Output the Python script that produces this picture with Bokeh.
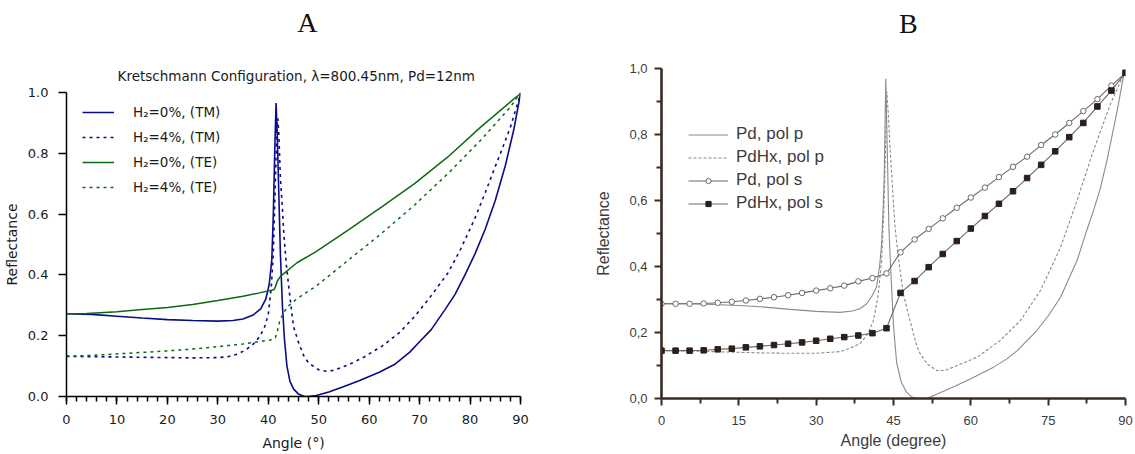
from bokeh.plotting import figure
from bokeh.models import Range1d, Label, Legend, LegendItem, SingleIntervalTicker, FixedTicker
from bokeh.layouts import row, column
from bokeh.embed import file_html
from bokeh.resources import INLINE

# ---------------- Panel A data (Kretschmann, lambda=800.45nm) ----------------
A_TM0_ANGLE = [0, 5, 10, 15, 20, 25, 30, 33, 35, 37, 38.5, 39.5, 40.2, 40.7, 41.0, 41.3, 41.55,
               41.8, 42.1, 42.4, 42.8, 43.2, 43.7, 44.3, 45, 46, 47, 48, 49.5, 52, 55, 58, 62,
               65, 68, 70, 72.3, 75, 77, 79, 81, 83, 85, 87, 88.7, 90]
A_TM0_R = [0.272, 0.270, 0.264, 0.258, 0.253, 0.250, 0.248, 0.250, 0.255, 0.268, 0.288, 0.32, 0.37,
           0.45, 0.60, 0.82, 0.965, 0.85, 0.66, 0.47, 0.30, 0.19, 0.10, 0.05, 0.025, 0.008, 0.001,
           0.0, 0.003, 0.015, 0.033, 0.052, 0.08, 0.105, 0.145, 0.18, 0.22, 0.285, 0.335, 0.40,
           0.47, 0.55, 0.645, 0.76, 0.88, 0.996]

A_TM4_ANGLE = [0, 5, 10, 15, 20, 25, 30, 32, 34, 35.5, 37, 38.2, 39.2, 40, 40.6, 41.0, 41.4, 41.7,
               41.9, 42.1, 42.4, 42.8, 43.1, 43.6, 44.2, 45, 46, 47, 48, 50, 51.5, 53, 56, 59,
               62.5, 66, 69, 72, 75.6, 78, 80.8, 83, 84.7, 86.5, 88, 90]
A_TM4_R = [0.132, 0.131, 0.130, 0.129, 0.128, 0.127, 0.128, 0.131, 0.140, 0.153, 0.172, 0.195,
           0.225, 0.27, 0.36, 0.47, 0.70, 0.88, 0.915, 0.86, 0.72, 0.62, 0.53, 0.43, 0.34, 0.23,
           0.178, 0.135, 0.11, 0.088, 0.083, 0.086, 0.105, 0.13, 0.165, 0.21, 0.263, 0.325,
           0.406, 0.48, 0.58, 0.67, 0.744, 0.82, 0.886, 0.996]

A_TE0_ANGLE = [0, 4, 10, 15, 20, 25, 30, 35, 38, 41.1, 41.4, 41.8, 42.4, 43.5, 45.7, 49.4, 55.9,
               62.5, 69, 75.6, 82.1, 88.7, 90]
A_TE0_R = [0.272, 0.273, 0.279, 0.286, 0.293, 0.303, 0.316, 0.330, 0.340, 0.351, 0.36, 0.38,
           0.395, 0.41, 0.44, 0.476, 0.548, 0.624, 0.70, 0.788, 0.886, 0.979, 0.996]

A_TE4_ANGLE = [0, 5, 10, 15, 20, 25, 30, 35, 38, 40.4, 41.4, 41.8, 42.3, 43, 44, 45.6, 47.5, 49.4,
               55.9, 62.5, 69, 75.6, 82.1, 88, 90]
A_TE4_R = [0.132, 0.135, 0.140, 0.145, 0.150, 0.156, 0.164, 0.173, 0.180, 0.186, 0.193, 0.215,
           0.25, 0.275, 0.298, 0.32, 0.342, 0.362, 0.449, 0.537, 0.63, 0.733, 0.843, 0.952, 1.0]

A_LABELS = ["H\u2082=0%, (TM)", "H\u2082=4%, (TM)", "H\u2082=0%, (TE)", "H\u2082=4%, (TE)"]
A_YTICKS = [0.0, 0.2, 0.4, 0.6, 0.8, 1.0]
A_YTICK_LABELS = ["0.0", "0.2", "0.4", "0.6", "0.8", "1.0"]
A_TITLE = "Kretschmann Configuration, \u03bb=800.45nm, Pd=12nm"

# ---------------- Panel B data ----------------
B_PDP_ANGLE = [0, 5, 10, 15, 20, 25, 30, 34.6, 37, 38.5, 39.8, 40.8, 41.7, 42.3, 42.7, 43.0, 43.2,
               43.5, 43.8, 44.1, 44.4, 45, 45.6, 46.5, 47.5, 48.5, 49.5, 51.5, 54.7, 57, 60, 64.4,
               67, 69, 72.8, 75, 77.4, 80.6, 82.5, 83.8, 85, 86.4, 88.4, 89.7]
B_PDP_R = [0.287, 0.287, 0.285, 0.282, 0.277, 0.270, 0.264, 0.261, 0.265, 0.272, 0.287, 0.31,
           0.337, 0.40, 0.469, 0.58, 0.67, 0.969, 0.75, 0.52, 0.41, 0.22, 0.11, 0.05, 0.02,
           0.005, 0.0, 0.0, 0.022, 0.038, 0.06, 0.095, 0.12, 0.145, 0.206, 0.25, 0.307, 0.418,
           0.51, 0.57, 0.63, 0.721, 0.873, 0.984]

B_PDHXP_ANGLE = [0, 5, 10, 15, 20, 25, 30, 34.6, 36.5, 38.5, 40, 41.1, 42, 42.7, 43.1, 43.4, 43.7,
                 44.0, 44.3, 44.8, 45.3, 46, 46.9, 48.2, 49.5, 50.2, 51.5, 53.4, 55, 56.6, 61.2,
                 65.7, 69.6, 73.5, 77.4, 80.6, 83.8, 87.1, 89.7]
B_PDHXP_R = [0.145, 0.144, 0.142, 0.140, 0.138, 0.137, 0.137, 0.142, 0.152, 0.166, 0.195, 0.236,
             0.31, 0.418, 0.56, 0.72, 0.93, 0.86, 0.77, 0.64, 0.519, 0.42, 0.317, 0.236, 0.16,
             0.135, 0.105, 0.085, 0.085, 0.095, 0.125, 0.176, 0.236, 0.327, 0.458, 0.6, 0.752,
             0.893, 0.984]

B_S_ANGLE = [0, 2.73, 5.45, 8.18, 10.91, 13.64, 16.36, 19.09, 21.82, 24.55, 27.27, 30.0, 32.73,
             35.45, 38.18, 40.91, 43.64, 46.36, 49.09, 51.82, 54.55, 57.27, 60.0, 62.73, 65.45,
             68.18, 70.91, 73.64, 76.36, 79.09, 81.82, 84.55, 87.27, 90.0]
B_PDS_R = [0.287, 0.287, 0.287, 0.288, 0.290, 0.293, 0.297, 0.302, 0.307, 0.313, 0.320, 0.327,
           0.334, 0.342, 0.355, 0.365, 0.379, 0.443, 0.482, 0.514, 0.546, 0.578, 0.609, 0.639,
           0.671, 0.702, 0.733, 0.768, 0.800, 0.835, 0.871, 0.907, 0.948, 0.987]
B_PDHXS_R = [0.145, 0.145, 0.145, 0.146, 0.149, 0.151, 0.155, 0.158, 0.162, 0.166, 0.170, 0.175,
             0.181, 0.186, 0.191, 0.198, 0.213, 0.32, 0.356, 0.398, 0.438, 0.477, 0.515, 0.553,
             0.590, 0.628, 0.668, 0.708, 0.749, 0.792, 0.835, 0.885, 0.933, 0.987]

B_LABELS = ["Pd, pol p", "PdHx, pol p", "Pd, pol s", "PdHx, pol s"]
B_XTICKS = [0, 15, 30, 45, 60, 75, 90]
B_XMINOR = [7.5, 22.5, 37.5, 52.5, 67.5, 82.5]
B_YTICKS = [0.0, 0.2, 0.4, 0.6, 0.8, 1.0]
B_YMINOR = [0.1, 0.3, 0.5, 0.7, 0.9]
B_YTICK_LABELS = ["0,0", "0,2", "0,4", "0,6", "0,8", "1,0"]


def blank_header(width, height):
    f = figure(width=width, height=height, x_range=Range1d(0, width), y_range=Range1d(0, height),
               output_backend="svg", toolbar_location=None, min_border=0,
               min_border_left=0, min_border_right=0, min_border_top=0, min_border_bottom=0)
    f.outline_line_color = None
    f.grid.grid_line_color = None
    f.axis.visible = False
    return f


# ---------------- Panel A ----------------
FA = "DejaVu Sans"
NAVY = "#0b0b86"
GREEN = "#0a6a12"
TXT_A = "#1a1a1a"

pAt = blank_header(575, 84)
pAt.add_layout(Label(x=305, y=84 - 22, text="A", text_align="center", text_baseline="middle",
                     text_font="Liberation Serif", text_font_size="28px", text_color="#111111"))
pAt.add_layout(Label(x=291, y=84 - 75, text=A_TITLE, text_align="center", text_baseline="middle",
                     text_font=FA, text_font_size="13.5px", text_color=TXT_A))

pA = figure(width=575, height=370, x_range=Range1d(0, 90), y_range=Range1d(0, 1.0),
            output_backend="svg", toolbar_location=None,
            min_border_left=63, min_border_right=55, min_border_top=8, min_border_bottom=58)
pA.outline_line_color = None
pA.grid.grid_line_color = None

r1 = pA.line(A_TM0_ANGLE, A_TM0_R, line_color=NAVY, line_width=1.6)
r2 = pA.line(A_TM4_ANGLE, A_TM4_R, line_color=NAVY, line_width=1.6, line_dash="3 4")
r3 = pA.line(A_TE0_ANGLE, A_TE0_R, line_color=GREEN, line_width=1.5)
r4 = pA.line(A_TE4_ANGLE, A_TE4_R, line_color=GREEN, line_width=1.5, line_dash="3 4")

pA.xaxis.ticker = SingleIntervalTicker(interval=10, num_minor_ticks=5)
pA.yaxis.ticker = FixedTicker(ticks=A_YTICKS, minor_ticks=[])
pA.yaxis.major_label_overrides = dict(zip(A_YTICKS, A_YTICK_LABELS))
for ax in (pA.xaxis[0], pA.yaxis[0]):
    ax.axis_line_color = "black"
    ax.axis_line_width = 1.5
    ax.major_tick_line_color = "black"
    ax.major_tick_line_width = 1.5
    ax.minor_tick_line_color = "black"
    ax.minor_tick_line_width = 1.5
    ax.major_tick_in = 0
    ax.major_tick_out = 8
    ax.minor_tick_in = 0
    ax.minor_tick_out = 5
    ax.major_label_text_font = FA
    ax.major_label_text_font_size = "13px"
    ax.major_label_text_color = TXT_A
    ax.axis_label_text_font = FA
    ax.axis_label_text_font_size = "14px"
    ax.axis_label_text_font_style = "normal"
    ax.axis_label_text_color = TXT_A
pA.xaxis.axis_label = "Angle (\u00b0)"
pA.yaxis.axis_label = "Reflectance"
pA.xaxis.major_label_standoff = 10
pA.xaxis.axis_label_standoff = 8
pA.yaxis.major_label_standoff = 10
pA.yaxis.axis_label_standoff = 5

legA = Legend(items=[LegendItem(label=A_LABELS[0], renderers=[r1]),
                     LegendItem(label=A_LABELS[1], renderers=[r2]),
                     LegendItem(label=A_LABELS[2], renderers=[r3]),
                     LegendItem(label=A_LABELS[3], renderers=[r4])],
              location=(16, 199), padding=0, margin=0, spacing=5,
              glyph_width=32, glyph_height=20, label_height=20, label_standoff=19,
              label_text_font=FA, label_text_font_size="13.5px", label_text_color=TXT_A,
              border_line_color=None, background_fill_alpha=0)
pA.add_layout(legA)

# ---------------- Panel B ----------------
FB = "Liberation Sans"
AXB = "#3a2a20"
TXT_B = "#3c3c3c"
GRAY = "#8a8a8a"
DGRAY = "#6a6a6a"

pBt = blank_header(560, 60)
pBt.add_layout(Label(x=298, y=60 - 23, text="B", text_align="center", text_baseline="middle",
                     text_font="Liberation Serif", text_font_size="28px", text_color="#111111"))

pB = figure(width=560, height=394, x_range=Range1d(0, 90), y_range=Range1d(0, 1.0),
            output_backend="svg", toolbar_location=None,
            min_border_left=86, min_border_right=10, min_border_top=8, min_border_bottom=56)
pB.outline_line_color = None
pB.grid.grid_line_color = None

b1 = pB.line(B_PDP_ANGLE, B_PDP_R, line_color=GRAY, line_width=1.1)
b2 = pB.line(B_PDHXP_ANGLE, B_PDHXP_R, line_color=GRAY, line_width=1.1, line_dash="3 2")
b3l = pB.line(B_S_ANGLE, B_PDS_R, line_color=DGRAY, line_width=1.1)
b3m = pB.scatter(B_S_ANGLE, B_PDS_R, marker="circle", size=5.5, fill_color="white",
                 line_color=DGRAY, line_width=1)
b4l = pB.line(B_S_ANGLE, B_PDHXS_R, line_color=DGRAY, line_width=1.1)
b4m = pB.scatter(B_S_ANGLE, B_PDHXS_R, marker="square", size=5.5, fill_color="#2b1f18",
                 line_color="#2b1f18", line_width=1)

pB.xaxis.ticker = FixedTicker(ticks=B_XTICKS, minor_ticks=B_XMINOR)
pB.yaxis.ticker = FixedTicker(ticks=B_YTICKS, minor_ticks=B_YMINOR)
pB.yaxis.major_label_overrides = dict(zip(B_YTICKS, B_YTICK_LABELS))
for ax in (pB.xaxis[0], pB.yaxis[0]):
    ax.axis_line_color = AXB
    ax.axis_line_width = 2.6
    ax.major_tick_line_color = AXB
    ax.major_tick_line_width = 2
    ax.minor_tick_line_color = AXB
    ax.minor_tick_line_width = 2
    ax.major_tick_in = 0
    ax.major_tick_out = 7
    ax.minor_tick_in = 0
    ax.minor_tick_out = 5
    ax.major_label_text_font = FB
    ax.major_label_text_font_size = "13px"
    ax.major_label_text_color = TXT_B
    ax.axis_label_text_font = FB
    ax.axis_label_text_font_size = "16px"
    ax.axis_label_text_font_style = "normal"
    ax.axis_label_text_color = TXT_B
pB.xaxis.axis_label = "Angle (degree)"
pB.yaxis.axis_label = "Reflectance"
pB.xaxis.major_label_standoff = 10
pB.xaxis.axis_label_standoff = 4
pB.yaxis.major_label_standoff = 7
pB.yaxis.axis_label_standoff = 14

legB = Legend(items=[LegendItem(label=B_LABELS[0], renderers=[b1]),
                     LegendItem(label=B_LABELS[1], renderers=[b2]),
                     LegendItem(label=B_LABELS[2], renderers=[b3l, b3m]),
                     LegendItem(label=B_LABELS[3], renderers=[b4l, b4m])],
              location=(27, 184), padding=0, margin=0, spacing=1,
              glyph_width=40, glyph_height=13, label_height=22, label_standoff=8,
              label_text_font=FB, label_text_font_size="17px", label_text_color=TXT_B,
              border_line_color=None, background_fill_alpha=0)
pB.add_layout(legB)

layout = row(column(pAt, pA), column(pBt, pB))

with open("out.html", "w") as f:
    f.write(file_html(layout, INLINE))
